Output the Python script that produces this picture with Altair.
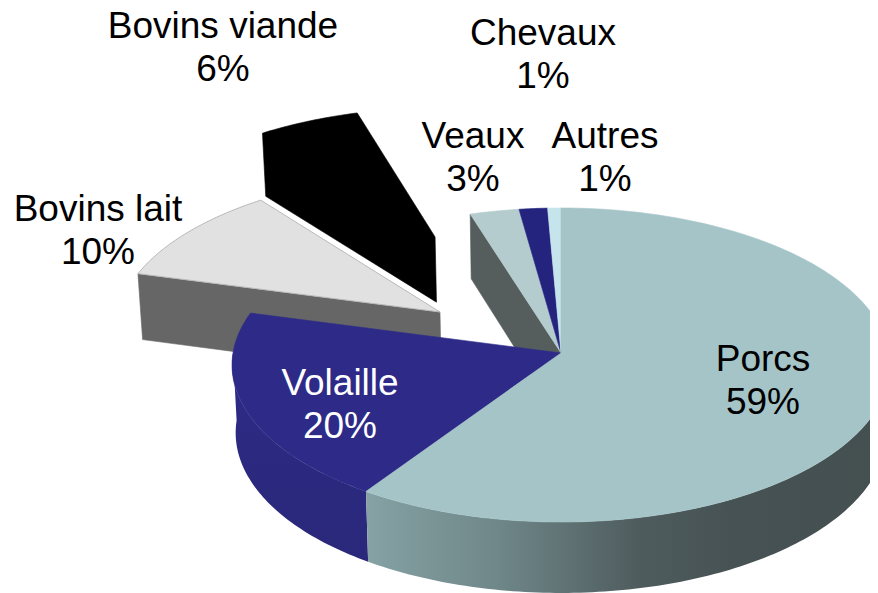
import math
import altair as alt

# --- data ---
names = ["Porcs", "Volaille", "Bovins lait", "Bovins viande", "Veaux", "Chevaux", "Autres"]
shares = [59.4, 19.8, 10.3, 5.7, 2.6, 1.5, 0.7]
labels = ["59%", "20%", "10%", "6%", "3%", "1%", "1%"]
explode = {"Bovins lait": (-0.3765, 0.268), "Bovins viande": (-0.407, 0.788)}

top_colors = {"Porcs": "#a5c4c8", "Volaille": "#2e2b88", "Bovins lait": "#e1e1e1",
              "Bovins viande": "#000000", "Veaux": "#b5cccf", "Chevaux": "#24247f", "Autres": "#c6e4ec"}

# label placement (page pixels): centre x, first-line centre y, colour
label_pos = {"Bovins viande": (223, 26, "#000000"), "Chevaux": (543, 33, "#000000"),
             "Veaux": (473, 136, "#000000"), "Autres": (605, 136, "#000000"),
             "Bovins lait": (98, 209, "#000000"), "Volaille": (340, 383, "#ffffff"),
             "Porcs": (763, 359, "#000000")}

# --- 3D view ---
PAGE = 8
CX, CY, RX, RY, K = 561, 352, 328, 156.1, 0.0764


def project(u, v):
    w = 1 + K * v
    return (CX + u * RX / w - PAGE, CY - v * RY / w - PAGE)


def drop(p):
    x, y = p[0] + PAGE, p[1] + PAGE
    return (x + 0.011 * (CX - x) - PAGE, y + 60.5 + 0.02 * y - PAGE)


def rim(a0, a1, off=(0, 0)):
    n = max(2, int(abs(a1 - a0)) + 1)
    out = []
    for i in range(n + 1):
        t = math.radians(a0 + (a1 - a0) * i / n)
        out.append(project(math.sin(t) + off[0], math.cos(t) + off[1]))
    return out


def feature(points, fill):
    ring = [list(p) for p in points] + [list(points[0])]
    return {"type": "Feature", "properties": {"fill": fill},
            "geometry": {"type": "Polygon", "coordinates": [ring]}}


angles = {}
acc = 0.0
for name, share in zip(names, shares):
    angles[name] = (acc, acc + share * 3.6)
    acc += share * 3.6

W, H = 862, 585


def layer_of(feats, stroke_w=0.6):
    return alt.Chart(alt.Data(values=feats)).mark_geoshape(clip=True, strokeWidth=stroke_w).encode(
        fill=alt.Fill("properties.fill:N", scale=None),
        stroke=alt.Stroke("properties.fill:N", scale=None),
    )


def side(a0, a1, off=(0, 0)):
    r = rim(a0, a1, off)
    return r + [drop(p) for p in reversed(r)]


def exploded_top(name):
    a0, a1 = angles[name]
    off = explode[name]
    return [project(*off)] + rim(a0, a1, off)


def cut_wall(tip, end):
    return [tip, end, drop(end), drop(tip)]


# back: black slice, one silhouette
a0, a1 = angles["Bovins viande"]
off = explode["Bovins viande"]
tip = project(*off)
arc = rim(a0, a1, off)
black = [feature(arc + [tip, drop(tip), drop(arc[0])], "#000000")]

# light slice
a0, a1 = angles["Bovins lait"]
off = explode["Bovins lait"]
tip = project(*off)
light = [feature(cut_wall(tip, rim(a0, a0, off)[0]), "#666666")]
light_top = [feature(exploded_top("Bovins lait"), "#e1e1e1")]

# wall exposed by the exploded slices
v0 = angles["Veaux"][0]
pivot = project(0, 0)
wall = [feature(cut_wall(pivot, rim(v0, v0)[0]), "#555e5d")]

# rims of main body
vol0, vol1 = angles["Volaille"]
por0, por1 = angles["Porcs"]
volaille_side = side(vol0, 270)
porcs_side = side(90, por1)

tops = []
for name in ["Veaux", "Chevaux", "Autres", "Volaille", "Porcs"]:
    a0, a1 = angles[name]
    tops.append(feature([pivot] + rim(a0, a1), top_colors[name]))

layers = [
    layer_of(black),
    layer_of(light),
    alt.Chart(alt.Data(values=light_top)).mark_geoshape(clip=True, stroke="#b9b9b9", strokeWidth=1, fill="#e1e1e1"),
    layer_of(wall),
    alt.Chart(alt.Data(values=[feature(volaille_side, "x")])).mark_geoshape(
        clip=True, strokeWidth=0,
        fill=alt.Gradient(gradient="linear", x1=0, x2=0, y1=0, y2=1, stops=[
            alt.GradientStop(offset=0.0, color="#2e2b88"),
            alt.GradientStop(offset=0.3, color="#2c2a82"),
            alt.GradientStop(offset=1.0, color="#29287a"),
        ])),
    alt.Chart(alt.Data(values=[feature(porcs_side, "x")])).mark_geoshape(
        clip=True, strokeWidth=0,
        fill=alt.Gradient(gradient="linear", x1=0, x2=1, y1=0, y2=0, stops=[
            alt.GradientStop(offset=0.0, color="#86a2a4"),
            alt.GradientStop(offset=0.25, color="#6f8789"),
            alt.GradientStop(offset=0.52, color="#4f5c5e"),
            alt.GradientStop(offset=0.7, color="#465253"),
            alt.GradientStop(offset=1.0, color="#445050"),
        ])),
    layer_of(tops),
]

for name, pct in zip(names, labels):
    x, y, col = label_pos[name]
    layers.append(
        alt.Chart(alt.Data(values=[{"t": f"{name}\n{pct}"}])).mark_text(
            font="Liberation Sans", fontSize=37, lineBreak="\n", lineHeight=43,
            align="center", baseline="middle", color=col,
        ).encode(text="t:N", x=alt.value(x - PAGE), y=alt.value(y - PAGE))
    )

chart = alt.layer(*layers).project(type="identity", scale=1, translate=[0, 0]).properties(
    width=W, height=H, padding=0, background="#ffffff"
).configure_view(stroke=None)

chart.save("out.html", embed_options={"renderer": "svg", "actions": False})
